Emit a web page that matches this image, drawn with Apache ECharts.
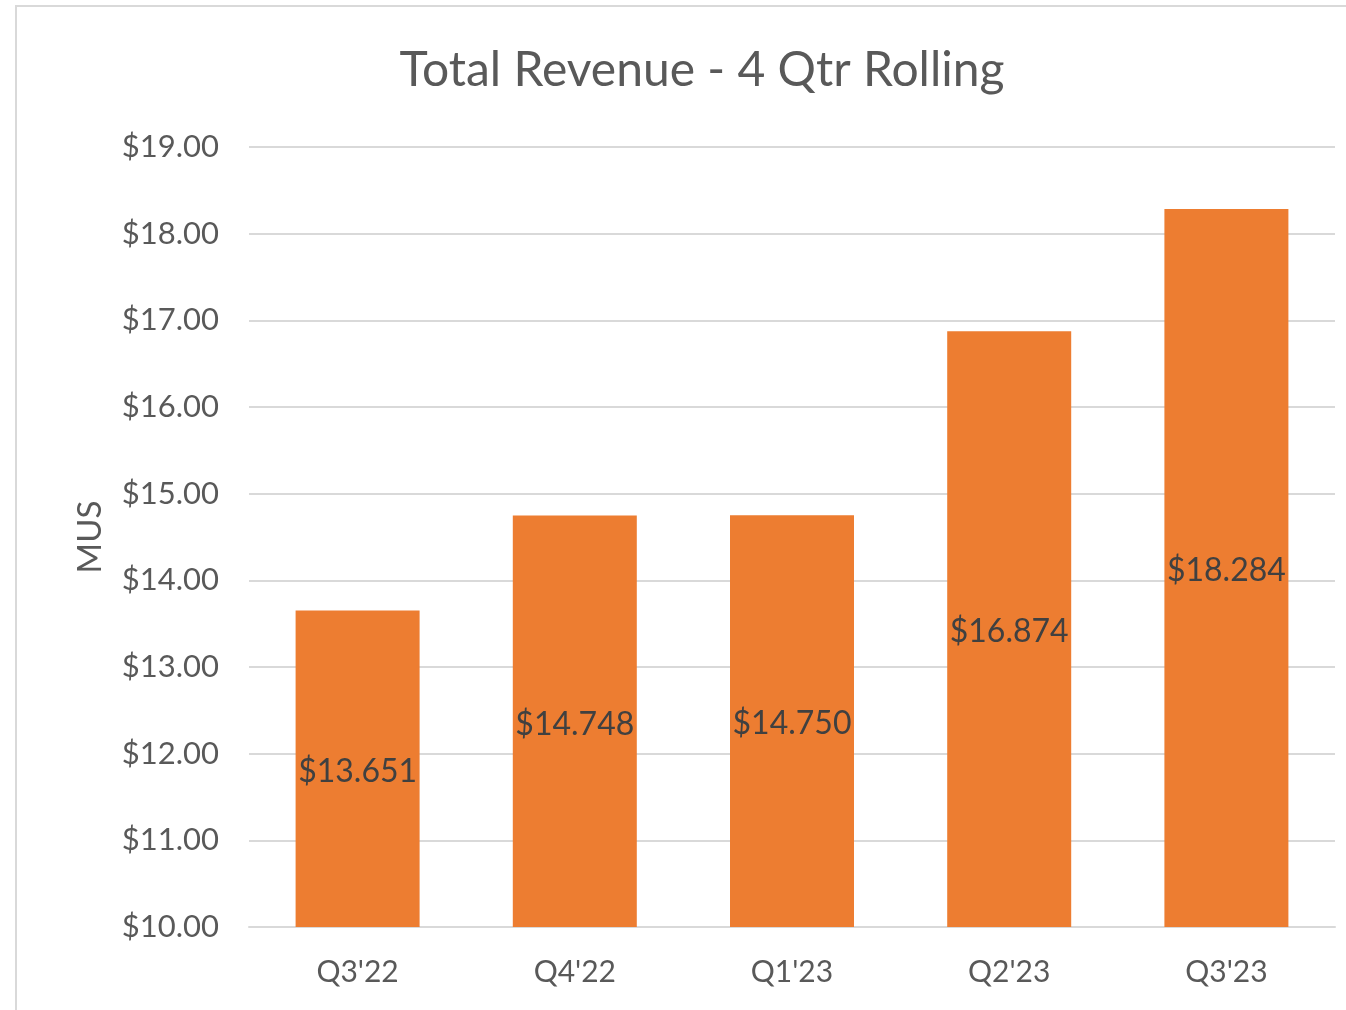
<!DOCTYPE html>
<html>
<head>
    <meta charset="utf-8">
    <style>
        html, body { margin: 0; padding: 0; background: #fff; overflow: hidden; }
        #frame {
            position: absolute; left: 15px; top: 5px;
            width: 1400px; height: 1100px;
            border-left: 2px solid #d9d9d9;
            border-top: 2px solid #d9d9d9;
        }
        #main { position: absolute; left: 0; top: 0; width: 1346px; height: 1010px; }
    </style>
    <script src="https://cdn.jsdelivr.net/npm/echarts@6/dist/echarts.min.js"></script>
</head>
<body>
    <div id="frame"></div>
    <div id="main"></div>
    <script type="text/javascript">
        var quarters = ["Q3'22", "Q4'22", "Q1'23", "Q2'23", "Q3'23"];
        var revenue = [13.651, 14.748, 14.750, 16.874, 18.284];

        var font = 'Lato, "Open Sans", sans-serif';
        var myChart = echarts.init(document.getElementById('main'));

        var option = {
            animation: false,
            title: {
                text: 'Total Revenue - 4 Qtr Rolling',
                left: 697,
                textAlign: 'center',
                top: 42,
                textStyle: { fontFamily: font, fontSize: 48, fontWeight: 'normal', color: '#595959' }
            },
            grid: { left: 249, right: 11, top: 147, bottom: 83, containLabel: false },
            xAxis: {
                type: 'category',
                data: quarters,
                axisLine: { lineStyle: { color: '#d9d9d9', width: 2 } },
                axisTick: { show: false },
                axisLabel: { color: '#595959', fontFamily: font, fontSize: 30, margin: 30 }
            },
            yAxis: {
                type: 'value',
                min: 10,
                max: 19,
                interval: 1,
                name: 'MUS',
                nameLocation: 'middle',
                nameGap: 142,
                nameRotate: 90,
                nameTextStyle: { color: '#595959', fontFamily: font, fontSize: 33 },
                axisLine: { show: false },
                axisTick: { show: false },
                splitLine: { lineStyle: { color: '#d9d9d9', width: 2 } },
                axisLabel: {
                    color: '#595959', fontFamily: font, fontSize: 31, margin: 30,
                    formatter: function (v) { return '$' + v.toFixed(2); }
                }
            },
            series: [{
                type: 'bar',
                data: revenue,
                barWidth: 124,
                itemStyle: { color: '#ED7D31' },
                label: {
                    show: true,
                    position: 'inside',
                    offset: [0, 3],
                    color: '#404040',
                    fontFamily: font,
                    fontSize: 32,
                    formatter: function (p) { return '$' + p.value.toFixed(3); }
                }
            }]
        };

        myChart.setOption(option);
    </script>
</body>
</html>
